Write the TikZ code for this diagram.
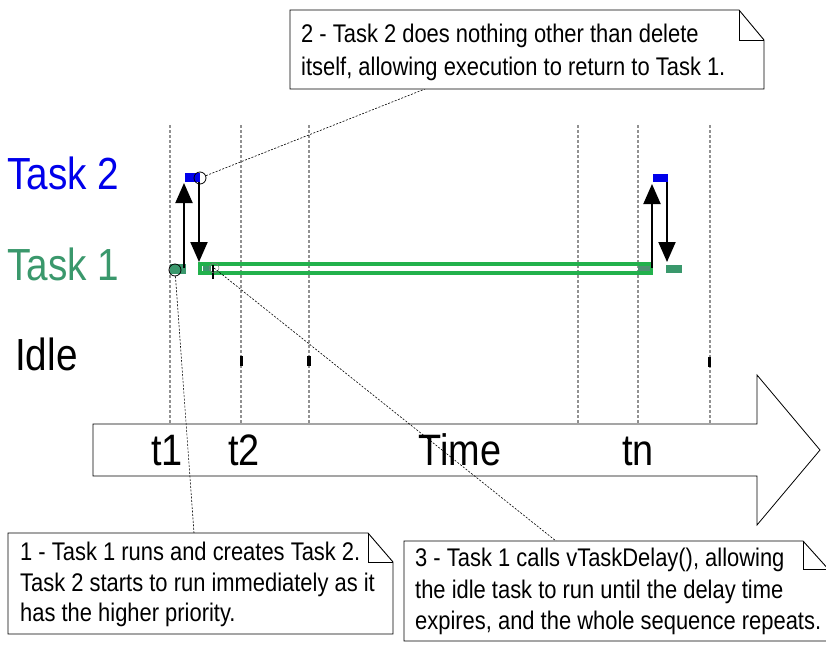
\documentclass[tikz,border=0pt]{standalone}
\usepackage{fontspec}
\setmainfont{Liberation Sans}[FakeStretch=0.86]
\usetikzlibrary{arrows.meta}

\definecolor{taskblue}{RGB}{0,0,235}
\definecolor{tasksea}{RGB}{58,152,108}
\definecolor{runbar}{RGB}{34,177,76}
\definecolor{gridgray}{RGB}{145,145,145}

\tikzset{
  biglabel/.style={font=\fontsize{45}{52}\selectfont, inner sep=0pt, anchor=base west},
  ticklabel/.style={font=\fontsize{44}{50}\selectfont, inner sep=0pt, anchor=base},
  notetext/.style={font=\fontsize{25.5}{30}\selectfont, inner sep=0pt, anchor=base west},
  gridline/.style={gridgray, line width=1.2pt, dash pattern=on 3pt off 2pt},
  leader/.style={black, line width=0.6pt, dash pattern=on 2pt off 1.5pt},
  notebox/.style={draw=black, fill=white, line width=0.9pt, line join=miter},
  switcharrow/.style={black, line width=2pt, -{Triangle[length=20pt,width=17pt]}},
  marker/.style={draw=black, line width=0.8pt},
}

\begin{document}
\begin{tikzpicture}[x=1pt, y=-1pt]
\clip (0,0) rectangle (826,645);
\fill[white] (0,0) rectangle (826,645);

% tick instants
\foreach \gx in {170,241,309,578,638,710}
  \draw[gridline] (\gx,125) -- (\gx,428);

% time axis arrow
\draw[black, line width=0.8pt, fill=white, line join=miter]
  (93,424) -- (757,424) -- (757,375) -- (820,450) -- (757,525) -- (757,476) -- (93,476) -- cycle;
\node[ticklabel] (t1) at (167,465) {t1};
\node[ticklabel] (t2) at (244,465) {t2};
\node[ticklabel] (time) at (460,465) {Time};
\node[ticklabel] (tn) at (638,465) {tn};

% row labels
\node[biglabel, taskblue] (lbl2) at (7,189) {Task 2};
\node[biglabel, tasksea] (lbl1) at (7,280) {Task 1};
\node[biglabel, black] (lblidle) at (15,370) {Idle};

% idle task slices
\fill[black] (240,356) rectangle (243,366);
\fill[black] (307,356) rectangle (311,366);
\fill[black] (708,357) rectangle (711,367);

% Task 1 running period
\draw[runbar, line width=4pt] (200,264) rectangle (651,273);
\fill[tasksea] (203,266) rectangle (211,271);
\fill[tasksea!70!gray] (638,266) rectangle (650,271);
\draw[black, line width=1.4pt] (213,265) -- (213,279);

% Task 1 slices
\fill[tasksea] (170,264) rectangle (186,274);
\fill[tasksea] (666,265) rectangle (682,273);

% Task 2 slices
\fill[taskblue] (185,173) rectangle (200,182);
\fill[taskblue] (653,174) rectangle (668,182);

% context switches
\coordinate (upA0) at (184,268);
\coordinate (upA1) at (184,183);
\coordinate (dnA0) at (199,182);
\coordinate (dnA1) at (199,262);
\coordinate (upB0) at (652,268);
\coordinate (upB1) at (652,184);
\coordinate (dnB0) at (667,182);
\coordinate (dnB1) at (667,262);
\draw[switcharrow] (upA0) -- (upA1);
\draw[switcharrow] (dnA0) -- (dnA1);
\draw[switcharrow] (upB0) -- (upB1);
\draw[switcharrow] (dnB0) -- (dnB1);

% event markers
\node[marker, circle, minimum size=12pt, inner sep=0pt] (ev1) at (175,270) {};
\node[marker, circle, minimum size=12pt, inner sep=0pt] (ev2) at (200,178) {};
\node[draw=gray, line width=0.5pt, circle, minimum size=10pt, inner sep=0pt] (ev3) at (214,268) {};

% note anchors
\coordinate (n2foot) at (425,89);
\coordinate (n1foot) at (194,533);
\coordinate (n3foot) at (556,541);

% leaders
\draw[leader] (ev2) -- (n2foot);
\draw[leader] (ev1) -- (n1foot);
\draw[leader] (ev3.center) -- (n3foot);

% note 2
\draw[notebox] (290,10) -- (739,10) -- (764,40) -- (764,89) -- (290,89) -- cycle;
\draw[black, line width=0.9pt] (739,10) -- (739,40) -- (764,40);
\node[notetext] (n2a) at (301,42) {2 - Task 2 does nothing other than delete};
\node[notetext] (n2b) at (301,75) {itself, allowing execution to return to Task 1.};

% note 1
\draw[notebox] (8,533) -- (368,533) -- (393,562) -- (393,634) -- (8,634) -- cycle;
\draw[black, line width=0.9pt] (368,533) -- (368,562) -- (393,562);
\node[notetext] (n1a) at (20,560) {1 - Task 1 runs and creates Task 2.};
\node[notetext] (n1b) at (20,591) {Task 2 starts to run immediately as it};
\node[notetext] (n1c) at (20,621) {has the higher priority.};

% note 3
\draw[notebox] (404,541) -- (803,541) -- (830,571) -- (830,641) -- (404,641) -- cycle;
\draw[black, line width=0.9pt] (803,541) -- (803,569) -- (830,569);
\node[notetext] (n3a) at (415,566) {3 - Task 1 calls vTaskDelay(), allowing};
\node[notetext] (n3b) at (415,598) {the idle task to run until the delay time};
\node[notetext] (n3c) at (415,629) {expires, and the whole sequence repeats.};
\end{tikzpicture}
\end{document}
